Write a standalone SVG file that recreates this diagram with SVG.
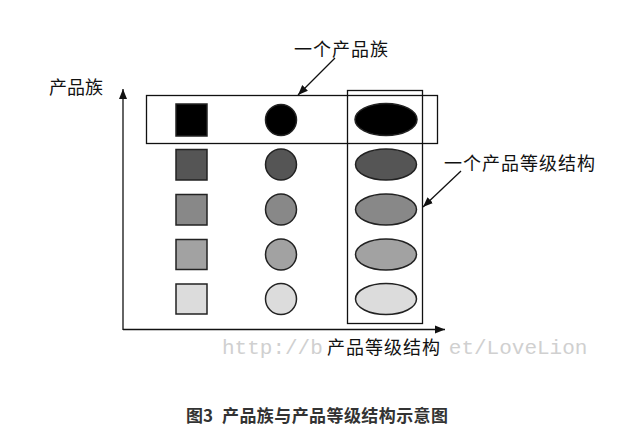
<svg xmlns="http://www.w3.org/2000/svg" width="626" height="444" viewBox="0 0 626 444">
  <style>
    .lbl { font-family: "Noto Sans CJK SC", "Noto Sans", sans-serif; font-size: 18px; fill: #111; }
    .cap { font-family: "Noto Sans CJK SC", "Noto Sans", sans-serif; font-size: 17px; font-weight: bold; fill: #333; }
    .wm { font-family: "Liberation Mono", monospace; font-size: 21px; fill: #d0d0d0; }
    .shape { stroke: #222; stroke-width: 1.5; }
    .frame { fill: none; stroke: #111; stroke-width: 1.3; }
    .line { fill: none; stroke: #111; stroke-width: 1.3; }
    .r1 { fill: #000; }
    .r2 { fill: #555; }
    .r3 { fill: #888; }
    .r4 { fill: #a2a2a2; }
    .r5 { fill: #dcdcdc; }
  </style>
  <defs>
    <marker id="tri" viewBox="0 0 10 10" refX="10" refY="5" markerWidth="10" markerHeight="10" markerUnits="userSpaceOnUse" orient="auto">
      <path d="M0,1 L10,5 L0,9 Z" fill="#111"/>
    </marker>
  </defs>

  <rect width="626" height="444" fill="#fff"/>

  <!-- watermark, split around the x-axis label -->
  <text class="wm" x="222" y="354">http://b</text>
  <text class="wm" x="448.8" y="354">et/LoveLion</text>

  <!-- axes and callout arrows -->
  <g id="connectors">
    <line class="line" x1="123" y1="330" x2="123" y2="89" marker-end="url(#tri)"/>
    <line class="line" x1="123" y1="329.5" x2="445" y2="329.5" marker-end="url(#tri)"/>
    <line class="line" x1="335" y1="58" x2="298" y2="95" marker-end="url(#tri)"/>
    <line class="line" x1="461" y1="171" x2="423" y2="207" marker-end="url(#tri)"/>
  </g>

  <!-- grouping frames -->
  <g id="family-frame">
    <rect class="frame" x="146.5" y="95.5" width="291" height="48"/>
  </g>
  <g id="level-frame">
    <rect class="frame" x="347.5" y="90.5" width="75" height="233"/>
  </g>

  <!-- product grid: squares, circles, ellipses -->
  <g id="row1">
    <rect class="shape r1" x="176" y="104" width="31" height="32"/>
    <circle class="shape r1" cx="281" cy="120" r="15.5"/>
    <ellipse class="shape r1" cx="386" cy="119.5" rx="31" ry="16"/>
  </g>
  <g id="row2">
    <rect class="shape r2" x="176" y="149.5" width="31" height="30.5"/>
    <circle class="shape r2" cx="281" cy="164.5" r="15.5"/>
    <ellipse class="shape r2" cx="386" cy="164.5" rx="30.5" ry="15.5"/>
  </g>
  <g id="row3">
    <rect class="shape r3" x="176" y="194.5" width="31" height="30.5"/>
    <circle class="shape r3" cx="281" cy="209.5" r="15.5"/>
    <ellipse class="shape r3" cx="386" cy="209.5" rx="30.5" ry="15.5"/>
  </g>
  <g id="row4">
    <rect class="shape r4" x="176" y="239.5" width="31" height="30"/>
    <circle class="shape r4" cx="281" cy="254.5" r="15.5"/>
    <ellipse class="shape r4" cx="386" cy="254.5" rx="30.5" ry="15.5"/>
  </g>
  <g id="row5">
    <rect class="shape r5" x="176" y="284" width="31" height="30"/>
    <circle class="shape r5" cx="281" cy="299" r="15.5"/>
    <ellipse class="shape r5" cx="386" cy="299" rx="30.5" ry="15.5"/>
  </g>

  <!-- labels -->
  <g id="label-family">
    <text class="lbl" x="294" y="56" textLength="94">一个产品族</text>
  </g>
  <g id="label-axis-y">
    <text class="lbl" x="49" y="94">产品族</text>
  </g>
  <g id="label-level">
    <text class="lbl" x="444" y="170" textLength="151">一个产品等级结构</text>
  </g>
  <g id="label-axis-x">
    <text class="lbl" x="327" y="354" textLength="113">产品等级结构</text>
  </g>
  <g id="caption">
    <text class="cap" x="186" y="422">图3</text>
    <text class="cap" x="222" y="422" textLength="226">产品族与产品等级结构示意图</text>
  </g>
</svg>
